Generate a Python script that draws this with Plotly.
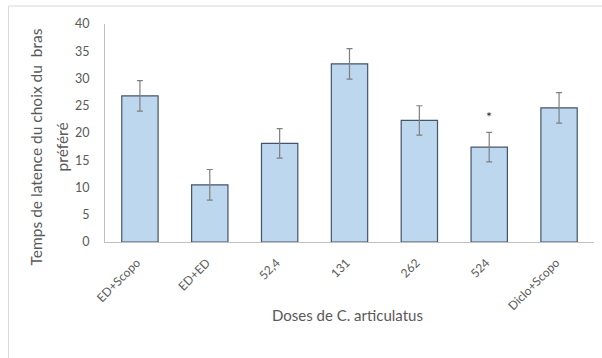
import plotly.graph_objects as go

# Latency to choose the preferred arm, by treatment group
doses = ["ED+Scopo", "ED+ED", "52,4", "131", "262", "524", "Diclo+Scopo"]
latence = [26.8, 10.5, 18.1, 32.7, 22.3, 17.4, 24.6]
erreur = [2.8, 2.8, 2.7, 2.8, 2.7, 2.7, 2.8]
y_ticks = [0, 5, 10, 15, 20, 25, 30, 35, 40]
y_title = ["Temps de latence du choix du  bras", "préféré"]
x_title = "Doses de C. articulatus"

W, H = 602, 358
L, R, T, B = 105, 8, 23.5, 116.3
pw, ph = W - L - R, H - T - B

def px(x):
    return (x - L) / pw

def py(y):
    return (H - B - y) / ph

FONT = "Lato, 'Open Sans', sans-serif"
GREY = "#595959"

fig = go.Figure()
fig.add_trace(go.Bar(
    x=doses,
    y=latence,
    marker=dict(color="#BDD7EE", line=dict(color="#44546A", width=1.2)),
    error_y=dict(type="data", array=erreur, visible=True,
                 color="#7f7f7f", thickness=1.2, width=3),
    showlegend=False,
))

# significance marker above the 524 group (category axis -> serial index)
i = doses.index("524")
fig.add_annotation(x=i, y=latence[i] + erreur[i], text="*",
                   showarrow=False, yshift=16,
                   font=dict(family=FONT, size=14, color="#262626"))

# two-line vertical axis title with wide line spacing
for xpix, line in zip([36, 62], y_title):
    fig.add_annotation(xref="paper", yref="paper", x=px(xpix), y=py(147),
                       xanchor="center", yanchor="middle", textangle=-90,
                       text=line, showarrow=False,
                       font=dict(family=FONT, size=15.5, color=GREY))

# horizontal axis title
fig.add_annotation(xref="paper", yref="paper", x=px(347), y=py(315),
                   xanchor="center", yanchor="middle", text=x_title,
                   showarrow=False,
                   font=dict(family=FONT, size=15, color=GREY))

# light frame around the chart
fig.add_shape(type="line", xref="paper", yref="paper",
              x0=px(8.5), x1=px(8.5), y0=py(5.5), y1=py(H + 2),
              line=dict(color="#d9d9d9", width=1))
fig.add_shape(type="line", xref="paper", yref="paper",
              x0=px(8.5), x1=px(W + 2), y0=py(5.5), y1=py(5.5),
              line=dict(color="#d9d9d9", width=1))

fig.update_layout(
    width=W, height=H,
    margin=dict(l=L, r=R, t=T, b=B, autoexpand=False),
    paper_bgcolor="white", plot_bgcolor="white",
    bargap=0.48,
    font=dict(family=FONT, color=GREY, size=12),
)
fig.update_xaxes(
    type="category",
    range=[-0.5, len(doses) - 0.5],
    showline=True, linecolor="#bfbfbf", linewidth=1.2,
    showgrid=False, ticks="", tickangle=-45,
    ticklabelstandoff=8, ticklabelshift=-3,
    tickfont=dict(size=12, color=GREY),
    automargin=False,
)
fig.update_yaxes(
    range=[0, 40], tickvals=y_ticks,
    showline=True, linecolor="#bfbfbf", linewidth=1.2,
    showgrid=False, zeroline=False, ticks="",
    ticklabelstandoff=12,
    tickfont=dict(size=12.5, color=GREY),
    automargin=False,
)

fig.write_html("out.html")
